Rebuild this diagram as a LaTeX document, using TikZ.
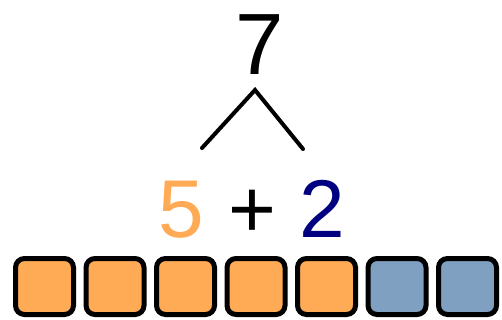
\documentclass[tikz,border=0pt]{standalone}
\usepackage{fontspec}
\setmainfont{Liberation Sans}
\definecolor{orng}{RGB}{255,170,85}
\definecolor{blu}{RGB}{127,160,192}
\definecolor{navy}{RGB}{0,0,128}
\begin{document}
\begin{tikzpicture}[x=1pt,y=-1pt,
  cube/.style={draw=black,line width=5pt,rounded corners=9pt,minimum width=58pt,minimum height=56pt,inner sep=0pt},
  big/.style={inner sep=0pt,anchor=base,font=\fontsize{87}{90}\selectfont},
  mid/.style={inner sep=0pt,anchor=base,font=\fontsize{82}{86}\selectfont}]
\useasboundingbox (0,0) rectangle (502,320);
\node[big] (seven) at (259.5,75) {7};
\coordinate (apex) at (255,90);
\coordinate (lft) at (202,148);
\coordinate (rgt) at (303,149);
\draw[line width=4pt,line cap=round,line join=miter] (lft) -- (apex) -- (rgt);
\node[mid,text=orng] (five) at (181,237) {5};
\node[mid] (plus) at (252,237) {+};
\node[mid,text=navy] (two) at (322.5,237) {2};
\foreach \i/\c in {0/orng,1/orng,2/orng,3/orng,4/orng,5/blu,6/blu}{
  \node[cube,fill=\c] (s\i) at (44.5+70.5*\i,286.5) {};
}
\end{tikzpicture}
\end{document}
